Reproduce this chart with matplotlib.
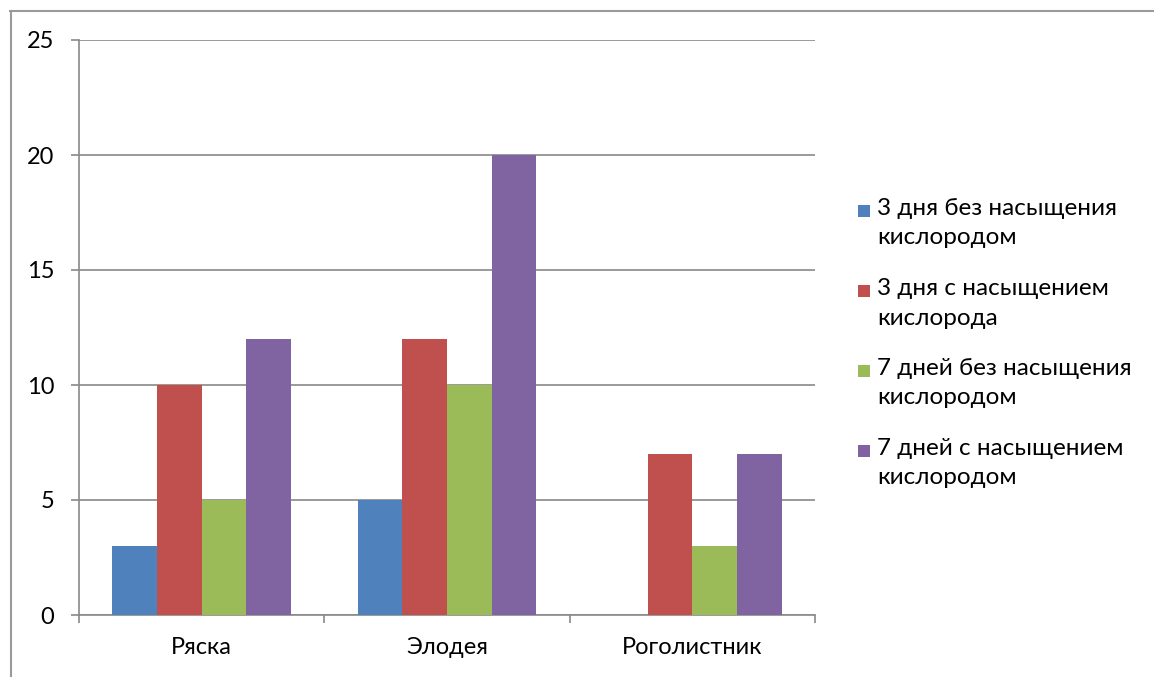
import matplotlib
matplotlib.use("Agg")
import matplotlib.pyplot as plt
from matplotlib.patches import Rectangle
from matplotlib.lines import Line2D
import numpy as np

plt.rcParams['font.family'] = ['Lato', 'DejaVu Sans']

categories = ["Ряска", "Элодея", "Роголистник"]
series_names = [
    "3 дня без насыщения\nкислородом",
    "3 дня с насыщением\nкислорода",
    "7 дней без насыщения\nкислородом",
    "7 дней с насыщением\nкислородом",
]
series_values = [
    [3, 5, 0],
    [10, 12, 7],
    [5, 10, 3],
    [12, 20, 7],
]
colors = ["#4F81BD", "#C0504D", "#9BBB59", "#8064A2"]
y_ticks = [0, 5, 10, 15, 20, 25]

W, H = 1154, 677
fig = plt.figure(figsize=(W / 100, H / 100), dpi=100)
ax = fig.add_axes([79 / W, 1 - 615 / H, (815 - 79) / W, (615 - 40) / H])

grid_color = "#898989"
n_series = len(series_values)
bar_w = 1 / (n_series + 1.5)
x = np.arange(len(categories))
for i, (vals, c) in enumerate(zip(series_values, colors)):
    offs = (i - (n_series - 1) / 2) * bar_w
    ax.bar(x + offs, vals, width=bar_w, color=c, zorder=3, linewidth=0)

ax.set_xlim(-0.5, len(categories) - 0.5)
ax.set_ylim(0, 25)
ax.set_yticks(y_ticks)
ax.set_yticklabels([str(v) for v in y_ticks])
ax.yaxis.grid(True, color=grid_color, linewidth=1.2, zorder=0)
ax.set_axisbelow(True)

ax.set_xticks(x)
ax.set_xticklabels(categories)
ax.set_xticks(np.arange(len(categories) + 1) - 0.5, minor=True)
ax.tick_params(axis='x', which='major', length=0, pad=16, labelsize=17)
ax.tick_params(axis='x', which='minor', length=5.5, width=1.2, color=grid_color, direction='out')
ax.tick_params(axis='y', length=5.8, width=1.2, color=grid_color, pad=12, labelsize=17, direction='out')

for s in ['top', 'right']:
    ax.spines[s].set_visible(False)
for s in ['left', 'bottom']:
    ax.spines[s].set_color(grid_color)
    ax.spines[s].set_linewidth(1.2)

# legend: colour swatch beside the first line of each two-line label
leg_x = 858
leg_y0 = 211
leg_step = 80
for i, (name, c) in enumerate(zip(series_names, colors)):
    yc = leg_y0 + i * leg_step
    fig.patches.append(Rectangle((leg_x / W, 1 - (yc + 6) / H), 12 / W, 12 / H,
                                 transform=fig.transFigure, facecolor=c, edgecolor='none'))
    fig.text(877 / W, 1 - (yc - 13) / H, name, fontsize=17.5, va='top', ha='left',
             linespacing=1.5)

# chart frame
fig.add_artist(Line2D([10 / W, 1], [1 - 10.5 / H, 1 - 10.5 / H], transform=fig.transFigure,
                      color="#9a9a9a", linewidth=1.5))
fig.add_artist(Line2D([10.5 / W, 10.5 / W], [0, 1 - 10.5 / H], transform=fig.transFigure,
                      color="#9a9a9a", linewidth=1.5))

fig.savefig("out.png", dpi=100)
